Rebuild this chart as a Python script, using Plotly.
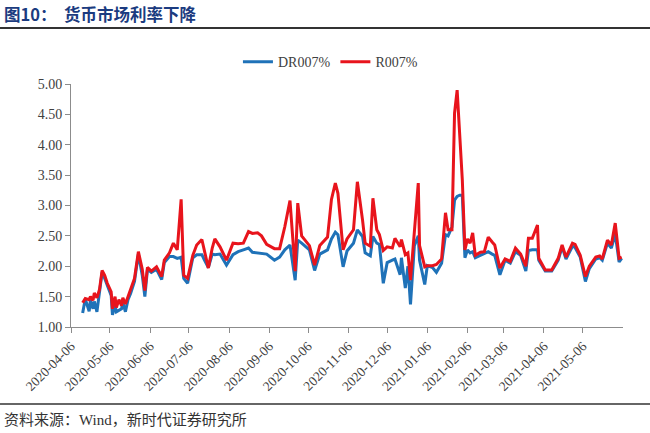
import plotly.graph_objects as go

dates = [
    "2020-04-15", "2020-04-17", "2020-04-20", "2020-04-21", "2020-04-23", "2020-04-24",
    "2020-04-26", "2020-04-28", "2020-04-30", "2020-05-02", "2020-05-04", "2020-05-07",
    "2020-05-08", "2020-05-10", "2020-05-11", "2020-05-13", "2020-05-15", "2020-05-16",
    "2020-05-18", "2020-05-20", "2020-05-22", "2020-05-25", "2020-05-28", "2020-05-31",
    "2020-06-02", "2020-06-04", "2020-06-07", "2020-06-11", "2020-06-15", "2020-06-17",
    "2020-06-21", "2020-06-24", "2020-06-27", "2020-06-30", "2020-07-02", "2020-07-05",
    "2020-07-09", "2020-07-12", "2020-07-16", "2020-07-18", "2020-07-21", "2020-07-24",
    "2020-07-26", "2020-07-30", "2020-08-04", "2020-08-09", "2020-08-13", "2020-08-17",
    "2020-08-21", "2020-08-24", "2020-08-28", "2020-08-31", "2020-09-04", "2020-09-10",
    "2020-09-14", "2020-09-18", "2020-09-22", "2020-09-26", "2020-09-28", "2020-10-01",
    "2020-10-07", "2020-10-11", "2020-10-15", "2020-10-21", "2020-10-24", "2020-10-27",
    "2020-10-29", "2020-11-02", "2020-11-05", "2020-11-10", "2020-11-13", "2020-11-17",
    "2020-11-19", "2020-11-23", "2020-11-25", "2020-11-28", "2020-11-30", "2020-12-03",
    "2020-12-06", "2020-12-10", "2020-12-12", "2020-12-16", "2020-12-17", "2020-12-20",
    "2020-12-22", "2020-12-24", "2020-12-27", "2020-12-30", "2020-12-31", "2021-01-04",
    "2021-01-06", "2021-01-10", "2021-01-13", "2021-01-17", "2021-01-20", "2021-01-22",
    "2021-01-25", "2021-01-27", "2021-01-29", "2021-01-31", "2021-02-02", "2021-02-04",
    "2021-02-06", "2021-02-08", "2021-02-10", "2021-02-12", "2021-02-16", "2021-02-19",
    "2021-02-22", "2021-02-25", "2021-02-27", "2021-03-03", "2021-03-07", "2021-03-11",
    "2021-03-15", "2021-03-19", "2021-03-23", "2021-03-25", "2021-03-28", "2021-04-01",
    "2021-04-02", "2021-04-07", "2021-04-12", "2021-04-17", "2021-04-20", "2021-04-23",
    "2021-04-28", "2021-04-30", "2021-05-04", "2021-05-08", "2021-05-11", "2021-05-16",
    "2021-05-19", "2021-05-21", "2021-05-25", "2021-05-28", "2021-05-31", "2021-06-03",
    "2021-06-05",
]

r007 = [
    1.40, 1.47, 1.45, 1.50, 1.44, 1.56,
    1.48, 1.62, 1.93, 1.85, 1.72, 1.58,
    1.30, 1.50, 1.32, 1.45, 1.35, 1.48,
    1.38, 1.50, 1.60, 1.80, 2.24, 1.95,
    1.60, 1.98, 1.92, 1.99, 1.83, 2.10,
    2.22, 2.38, 2.27, 3.10, 1.85, 1.80,
    2.18, 2.35, 2.44, 2.26, 1.97, 2.30,
    2.45, 2.32, 2.10, 2.38, 2.37, 2.38,
    2.57, 2.54, 2.55, 2.50, 2.36, 2.29,
    2.29, 2.65, 3.08, 1.92, 3.04, 2.50,
    2.34, 2.02, 2.34, 2.48, 3.10, 3.37,
    3.20, 2.27, 2.45, 2.60, 3.39, 2.76,
    2.38, 2.33, 3.12, 2.60, 2.52, 2.26,
    2.32, 2.30, 2.46, 2.32, 2.44, 2.19,
    2.22, 1.77, 2.63, 3.37, 2.34, 1.99,
    2.01, 2.01, 2.03, 2.12, 2.88, 2.60,
    2.60, 4.52, 4.90, 4.24, 3.42, 2.27,
    2.45, 2.38, 2.55, 2.18, 2.23, 2.24,
    2.48, 2.40, 2.35, 1.97, 2.12, 2.08,
    2.30, 2.20, 2.00, 2.46, 2.46, 2.68,
    2.13, 1.94, 1.94, 2.13, 2.35, 2.15,
    2.38, 2.36, 2.18, 1.83, 2.00, 2.15,
    2.17, 2.12, 2.43, 2.35, 2.71, 2.13,
    2.15,
]

dr007 = [
    1.23, 1.46, 1.26, 1.44, 1.30, 1.42,
    1.25, 1.55, 1.90, 1.80, 1.68, 1.52,
    1.20, 1.35, 1.25, 1.28, 1.30, 1.40,
    1.25, 1.45, 1.55, 1.75, 2.20, 1.85,
    1.50, 1.95, 1.90, 1.95, 1.78, 2.06,
    2.16, 2.16, 2.13, 2.15, 1.80, 1.72,
    2.14, 2.19, 2.19, 2.10, 1.98, 2.20,
    2.19, 2.20, 2.02, 2.19, 2.24, 2.27,
    2.30, 2.23, 2.22, 2.20, 2.20, 2.10,
    2.15, 2.27, 2.35, 1.77, 2.43, 2.38,
    2.27, 1.93, 2.20, 2.27, 2.45, 2.56,
    2.52, 1.99, 2.25, 2.38, 2.60, 2.49,
    2.22, 2.17, 2.49, 2.38, 2.36, 1.72,
    2.06, 2.10, 2.12, 1.86, 2.14, 1.64,
    2.00, 1.37, 2.34, 2.50, 2.10, 1.70,
    2.01, 1.98, 1.90, 2.05, 2.52, 2.50,
    2.65, 3.09, 3.15, 3.17, 3.17, 2.14,
    2.27, 2.22, 2.24, 2.14, 2.18, 2.20,
    2.24, 2.20, 2.18, 1.86, 2.10, 2.05,
    2.24, 2.18, 1.92, 2.26, 2.27, 2.27,
    2.10, 1.92, 1.92, 2.10, 2.32, 2.12,
    2.33, 2.31, 2.15, 1.75, 1.96, 2.12,
    2.14, 2.10, 2.38, 2.30, 2.53, 2.07,
    2.13,
]

tick_dates = [
    "2020-04-06", "2020-05-06", "2020-06-06", "2020-07-06", "2020-08-06",
    "2020-09-06", "2020-10-06", "2020-11-06", "2020-12-06", "2021-01-06",
    "2021-02-06", "2021-03-06", "2021-04-06", "2021-05-06",
]
y_ticks = [1.0, 1.5, 2.0, 2.5, 3.0, 3.5, 4.0, 4.5, 5.0]

title_text = "图10：  货币市场利率下降"
source_text = "资料来源：Wind，新时代证券研究所"

serif = "Liberation Serif, Noto Sans CJK SC, serif"

fig = go.Figure()
fig.add_trace(go.Scatter(x=dates, y=dr007, mode="lines", name="DR007%",
                         line=dict(color="#1f72b8", width=3)))
fig.add_trace(go.Scatter(x=dates, y=r007, mode="lines", name="R007%",
                         line=dict(color="#e8141c", width=3)))

fig.update_layout(
    width=650, height=433,
    margin=dict(l=71, r=27, t=84, b=106),
    paper_bgcolor="white", plot_bgcolor="white",
    showlegend=True,
    legend=dict(orientation="h", x=0.47, xanchor="center", y=1.09, yanchor="middle",
                font=dict(family=serif, size=14, color="#404040"),
                itemwidth=30, tracegroupgap=0, bgcolor="rgba(0,0,0,0)"),
    font=dict(family=serif, color="#404040"),
)

fig.update_xaxes(
    type="date", range=["2020-04-06", "2021-06-06"],
    tickvals=tick_dates, ticktext=tick_dates, tickangle=-45,
    showline=True, linecolor="#8c8c8c", linewidth=1,
    ticks="outside", ticklen=5, tickcolor="#8c8c8c",
    showgrid=False, zeroline=False,
    tickfont=dict(family=serif, size=13.5, color="#404040"),
)
fig.update_yaxes(
    range=[1, 5], tickvals=y_ticks, tickformat=".2f",
    showline=True, linecolor="#8c8c8c", linewidth=1,
    ticks="outside", ticklen=5, tickcolor="#8c8c8c",
    showgrid=False, zeroline=False,
    tickfont=dict(family=serif, size=14, color="#404040"),
)

fig.add_annotation(text="<b>" + title_text + "</b>", xref="paper", yref="paper",
                   x=-0.125, y=1.288, xanchor="left", yanchor="middle", showarrow=False,
                   font=dict(family="Noto Sans CJK SC", size=16.5, color="#1b3b80"))
fig.add_annotation(text=source_text, xref="paper", yref="paper",
                   x=-0.125, y=-0.383, xanchor="left", yanchor="middle", showarrow=False,
                   font=dict(family=serif, size=15, color="#333333"))

fig.add_shape(type="line", xref="paper", yref="paper", x0=-0.1286, x1=1.0489,
              y0=1.2305, y1=1.2305, line=dict(color="#333333", width=2))
fig.add_shape(type="line", xref="paper", yref="paper", x0=-0.1286, x1=1.0489,
              y0=-0.3169, y1=-0.3169, line=dict(color="#333333", width=1.5))

fig.write_html("out.html")
